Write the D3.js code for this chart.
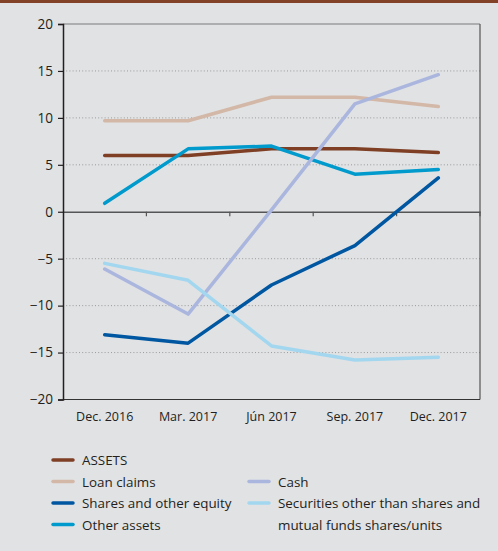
<!DOCTYPE html>
<html>
<head>
<meta charset="utf-8">
<script src="https://cdn.jsdelivr.net/npm/d3@7"></script>
<style>
  html, body { margin: 0; padding: 0; background: #e1e2e4; }
  svg { display: block; font-family: "Open Sans", "Noto Sans", sans-serif; }
</style>
</head>
<body>
<svg id="chart" width="498" height="551"></svg>
<script>
// Periods on the horizontal axis
const categories = ["Dec. 2016", "Mar. 2017", "Jún 2017", "Sep. 2017", "Dec. 2017"];

// Year-on-year change, %
const assets      = [6.0, 6.0, 6.7, 6.7, 6.3];
const loanClaims  = [9.7, 9.7, 12.2, 12.2, 11.2];
const sharesEq    = [-13.1, -14.0, -7.8, -3.6, 3.6];
const otherAssets = [0.9, 6.7, 7.0, 4.0, 4.5];
const cash        = [-6.1, -10.9, 0.2, 11.5, 14.6];
const securities  = [-5.5, -7.3, -14.3, -15.8, -15.5];

const yTicks = [20, 15, 10, 5, 0, -5, -10, -15, -20];

const seriesNames = ["ASSETS", "Loan claims", "Shares and other equity", "Other assets",
                     "Cash", "Securities other than shares and|mutual funds shares/units"];
const seriesData = [assets, loanClaims, sharesEq, otherAssets, cash, securities];
const seriesColors = ["#7e3f24", "#d3b7a7", "#0057a1", "#009acd", "#aab6de", "#a2d7ef"];

const svg = d3.select("#chart");
const W = 498;

// Top accent bar
svg.append("rect").attr("x", 0).attr("y", 0).attr("width", W).attr("height", 3)
  .attr("fill", "#814227");

const plotL = 63, plotR = 480, plotT = 24, plotB = 399.5;

const x = d3.scaleBand().domain(categories).range([plotL, plotR]);
const y = d3.scaleLinear().domain([-20, 20]).range([plotB, plotT]);

// Dotted grid lines
svg.append("g").selectAll("line")
  .data(yTicks.filter(t => t !== 0 && t !== 20 && t !== -20))
  .join("line")
  .attr("x1", plotL).attr("x2", plotR)
  .attr("y1", d => y(d)).attr("y2", d => y(d))
  .attr("stroke", "#9a9a9a").attr("stroke-width", 1)
  .attr("stroke-dasharray", "1,2.2");

// Frame: top and right
svg.append("line").attr("x1", plotL).attr("x2", plotR).attr("y1", plotT).attr("y2", plotT)
  .attr("stroke", "#7a7a7a").attr("stroke-width", 1.2);
svg.append("line").attr("x1", plotR).attr("x2", plotR).attr("y1", plotT).attr("y2", plotB)
  .attr("stroke", "#555").attr("stroke-width", 1.2);
// Bottom line
svg.append("line").attr("x1", plotL).attr("x2", plotR).attr("y1", plotB).attr("y2", plotB)
  .attr("stroke", "#333").attr("stroke-width", 1.2);

// Zero line with category ticks
const xAxis = svg.append("g").attr("transform", `translate(0,${y(0)})`)
  .call(d3.axisBottom(x).tickSize(0).tickFormat(""));
xAxis.select(".domain").attr("stroke", "#555").attr("stroke-width", 1.3);
const bounds = categories.slice(1).map(c => x(c));
bounds.push(plotR);
svg.append("g").selectAll("line").data(bounds).join("line")
  .attr("x1", d => d).attr("x2", d => d)
  .attr("y1", y(0)).attr("y2", y(0) + 4.5)
  .attr("stroke", "#555").attr("stroke-width", 1.2);

// Category labels under the chart
svg.append("g").selectAll("text").data(categories).join("text")
  .attr("x", d => x(d) + x.bandwidth() / 2)
  .attr("y", 420.5)
  .attr("text-anchor", "middle")
  .attr("font-size", 12.5)
  .attr("fill", "#231f20")
  .text(d => d);

// Left axis
const yAxis = svg.append("g").attr("transform", `translate(${plotL},0)`)
  .call(d3.axisLeft(y).tickValues(yTicks).tickSize(5).tickPadding(5).tickFormat(d3.format("d")));
yAxis.select(".domain").attr("stroke", "#231f20").attr("stroke-width", 1.5);
yAxis.selectAll(".tick line").attr("stroke", "#231f20").attr("stroke-width", 1.2);
yAxis.selectAll(".tick text").attr("font-size", 13.6).attr("fill", "#231f20")
  .attr("font-family", "'Open Sans', 'Noto Sans', sans-serif");

// Series lines
const line = d3.line()
  .x((d, i) => x(categories[i]) + x.bandwidth() / 2)
  .y(d => y(d));

svg.append("g").selectAll("path").data(seriesData).join("path")
  .attr("d", d => line(d))
  .attr("fill", "none")
  .attr("stroke", (d, i) => seriesColors[i])
  .attr("stroke-width", 3.5)
  .attr("stroke-linecap", "round")
  .attr("stroke-linejoin", "round");

// Legend
const legendPos = [
  [53, 460], [53, 481.5], [53, 503], [53, 524.5],
  [249, 481.5], [249, 503]
];
const lg = svg.append("g");
seriesNames.forEach((name, i) => {
  const [lx, ly] = legendPos[i];
  lg.append("line")
    .attr("x1", lx).attr("x2", lx + 20)
    .attr("y1", ly).attr("y2", ly)
    .attr("stroke", seriesColors[i]).attr("stroke-width", 3.5)
    .attr("stroke-linecap", "round");
  const parts = name.split("|");
  parts.forEach((p, j) => {
    lg.append("text")
      .attr("x", lx + 29)
      .attr("y", ly + 5 + j * 21.5)
      .attr("font-size", 13.4)
      .attr("fill", "#231f20")
      .text(p);
  });
});
</script>
</body>
</html>
